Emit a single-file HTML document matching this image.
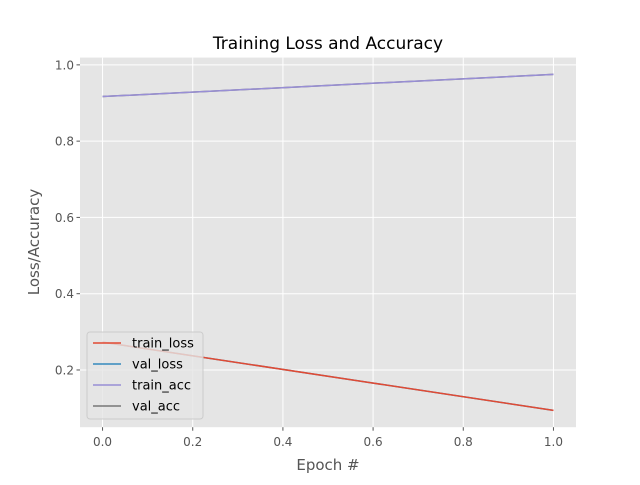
<!DOCTYPE html>
<html><head><meta charset="utf-8"><style>
body{margin:0;background:#fff;}
svg text{font-family:"DejaVu Sans","Liberation Sans",sans-serif;}
</style></head><body>
<svg id="chart" width="640" height="480" xmlns="http://www.w3.org/2000/svg">
<rect width="640" height="480" fill="#fff"/>
<rect x="80" y="57.6" width="496" height="369.6" fill="#e5e5e5"/>
<g id="grid"></g>
<g id="series"></g>
<g id="ticks"></g>
<text x="328" y="49" font-size="17" text-anchor="middle" fill="#000">Training Loss and Accuracy</text>
<text x="328" y="470" font-size="15" text-anchor="middle" fill="#555">Epoch #</text>
<text transform="translate(39,242) rotate(-90)" font-size="15" text-anchor="middle" fill="#555">Loss/Accuracy</text>
<g id="legend">
<rect x="87" y="332" width="116" height="87" rx="3" fill="#e5e5e5" fill-opacity="0.8" stroke="#ccc"/>
</g>
</svg>
<script>
const epochs=[0,1];
const trainLoss=[0.273,0.094];
const valLoss=[0.273,0.094];
const trainAcc=[0.917,0.975];
const valAcc=[0.917,0.975];
const xTicks=[0.0,0.2,0.4,0.6,0.8,1.0];
const yTicks=[0.2,0.4,0.6,0.8,1.0];
const names=["train_loss","val_loss","train_acc","val_acc"];
const colors=["#E24A33","#348ABD","#988ED5","#777777"];

const L=80,R=576,T=57.6,B=427.2;
const all=[...trainLoss,...trainAcc];
const ymin0=Math.min(...all),ymax0=Math.max(...all),pad=(ymax0-ymin0)*0.05;
const ymin=ymin0-pad,ymax=ymax0+pad;
const xmin=-0.05,xmax=1.05;
const X=v=>L+(v-xmin)/(xmax-xmin)*(R-L);
const Y=v=>B-(v-ymin)/(ymax-ymin)*(B-T);
const NS="http://www.w3.org/2000/svg";
function mk(t,a,p){const e=document.createElementNS(NS,t);for(const k in a)e.setAttribute(k,a[k]);p.appendChild(e);return e;}
const grid=document.getElementById('grid'),ticks=document.getElementById('ticks');
xTicks.forEach(v=>{
  const l=mk('line',{x1:X(v),x2:X(v),y1:T,y2:B,stroke:'#fff','stroke-width':1},grid);
  
  
  mk('line',{x1:X(v),x2:X(v),y1:B,y2:B+3.5,stroke:'#555'},ticks);
  const t=mk('text',{x:X(v),y:B+19,'font-size':12,'text-anchor':'middle',fill:'#555'},ticks);
  t.textContent=v.toFixed(1);
  
  
});
yTicks.forEach(v=>{
  const l=mk('line',{x1:L,x2:R,y1:Y(v),y2:Y(v),stroke:'#fff','stroke-width':1},grid);
  
  
  mk('line',{x1:L-3.5,x2:L,y1:Y(v),y2:Y(v),stroke:'#555'},ticks);
  const t=mk('text',{x:L-6,y:Y(v)+4.5,'font-size':12,'text-anchor':'end',fill:'#555'},ticks);
  t.textContent=v.toFixed(1);
  
  
});
const data=[trainLoss,valLoss,trainAcc,valAcc];
const series=document.getElementById('series');
[3,1,2,0].forEach(i=>{
  const pts=epochs.map((e,j)=>X(e)+','+Y(data[i][j])).join(' ');
  const p=mk('polyline',{points:pts,fill:'none',stroke:colors[i],'stroke-width':1.5},series);
  
  
});
const leg=document.getElementById('legend');
names.forEach((n,i)=>{
  const y=343+i*21;
  const l=mk('line',{x1:93,x2:121,y1:y,y2:y,stroke:colors[i],'stroke-width':1.5},leg);
  
  
  const t=mk('text',{x:132,y:y+4.5,'font-size':13,fill:'#000'},leg);
  t.textContent=n;
  
  
});
</script>
</body></html>
